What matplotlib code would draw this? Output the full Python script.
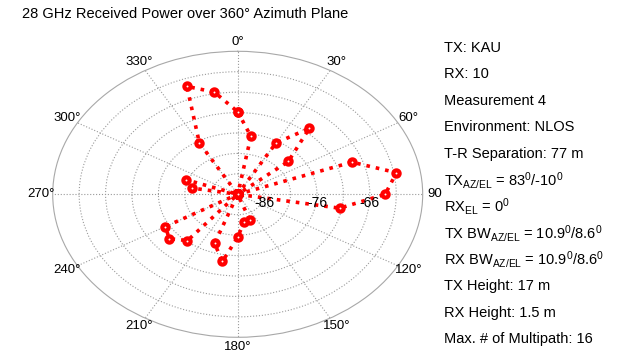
import numpy as np
import matplotlib
matplotlib.use("Agg")
import matplotlib.pyplot as plt

plt.rcParams['font.family'] = 'sans-serif'
plt.rcParams['font.sans-serif'] = ['Liberation Sans', 'DejaVu Sans']
plt.rcParams['mathtext.fontset'] = 'custom'

# received power per azimuth angle (dBm), nan = no signal detected
azimuth_deg = list(range(0, 360, 10))
power_dbm = [-70.8, -76.6, np.nan, -76.5, -69.9, -78.5, np.nan, -68.0, -60.5, -63.1,
             -71.4, np.nan, np.nan, np.nan, np.nan, np.nan, -84.3, -84.1, -80.5, -74.3,
             -78.2, np.nan, -76.2, -74.1, -75.2, np.nan, np.nan, np.nan, -82.3, -80.5,
             np.nan, np.nan, np.nan, -76.5, -62.9, -65.6]

r_min, r_max = -91, -56
ring_ticks = [-86, -81, -76, -71, -66, -61]
ring_labels = [-86, -76, -66]
angle_ticks = list(range(0, 360, 30))

info_lines = [
    "TX: KAU",
    "RX: 10",
    "Measurement 4",
    "Environment: NLOS",
    "T-R Separation: 77 m",
    r"TX$_{\rm AZ/EL}$ = 83$^{\rm 0}$/-10$^{\rm 0}$",
    r"RX$_{\rm EL}$ = 0$^{\rm 0}$",
    r"TX BW$_{\rm AZ/EL}$ = 10.9$^{\rm 0}$/8.6$^{\rm 0}$",
    r"RX BW$_{\rm AZ/EL}$ = 10.9$^{\rm 0}$/8.6$^{\rm 0}$",
    "TX Height: 17 m",
    "RX Height: 1.5 m",
    "Max. # of Multipath: 16",
]

fig = plt.figure(figsize=(6.29, 3.60), dpi=100)
ax = fig.add_axes([0.0838, 0.0631, 0.5882, 0.7944], projection='polar')
ax.set_aspect('auto')
ax.set_theta_zero_location('N')
ax.set_theta_direction(-1)
ax.set_rlim(r_min, r_max)

theta = np.deg2rad(azimuth_deg + [azimuth_deg[0]])
vals = np.array(power_dbm + [power_dbm[0]])
vals = np.where(np.isnan(vals), r_min, vals)
ax.plot(theta, vals, linestyle=':', color='red', lw=2.6, marker='o',
        ms=4.5, mfc='white', mec='red', mew=3, zorder=3)

ax.set_rticks(ring_ticks)
ax.set_yticklabels([])
ax.set_thetagrids(angle_ticks, labels=[''] * len(angle_ticks))
ax.grid(True, linestyle=':', color='#9a9a9a', lw=0.8)
ax.spines['polar'].set_color('#a8a8a8')
ax.spines['polar'].set_linewidth(0.8)

r_lab = r_min + 1.065 * (r_max - r_min)
for a in angle_ticks:
    lab = "90" if a == 90 else f"{a}\u00b0"
    ax.text(np.deg2rad(a), r_lab, lab, ha='center', va='center', fontsize=9.5)
ax.annotate("dBm", xy=(np.deg2rad(90), r_lab), xytext=(-6, -11), textcoords='offset points',
            ha='center', va='center', fontsize=9.5)

for v in ring_labels:
    ax.annotate(f"{v}", xy=(np.deg2rad(90), v), xytext=(0, -6), textcoords='offset points',
                ha='center', va='center', fontsize=10)

fig.text(22 / 629, 1 - 14 / 360, "28 GHz Received Power over 360\u00b0 Azimuth Plane",
         ha='left', va='center', fontsize=10.5)

for i, line in enumerate(info_lines):
    y = 48 + i * 26.45
    fig.text(444 / 629, 1 - y / 360, line, ha='left', va='center', fontsize=10.5)

fig.savefig("out.png", dpi=100)
